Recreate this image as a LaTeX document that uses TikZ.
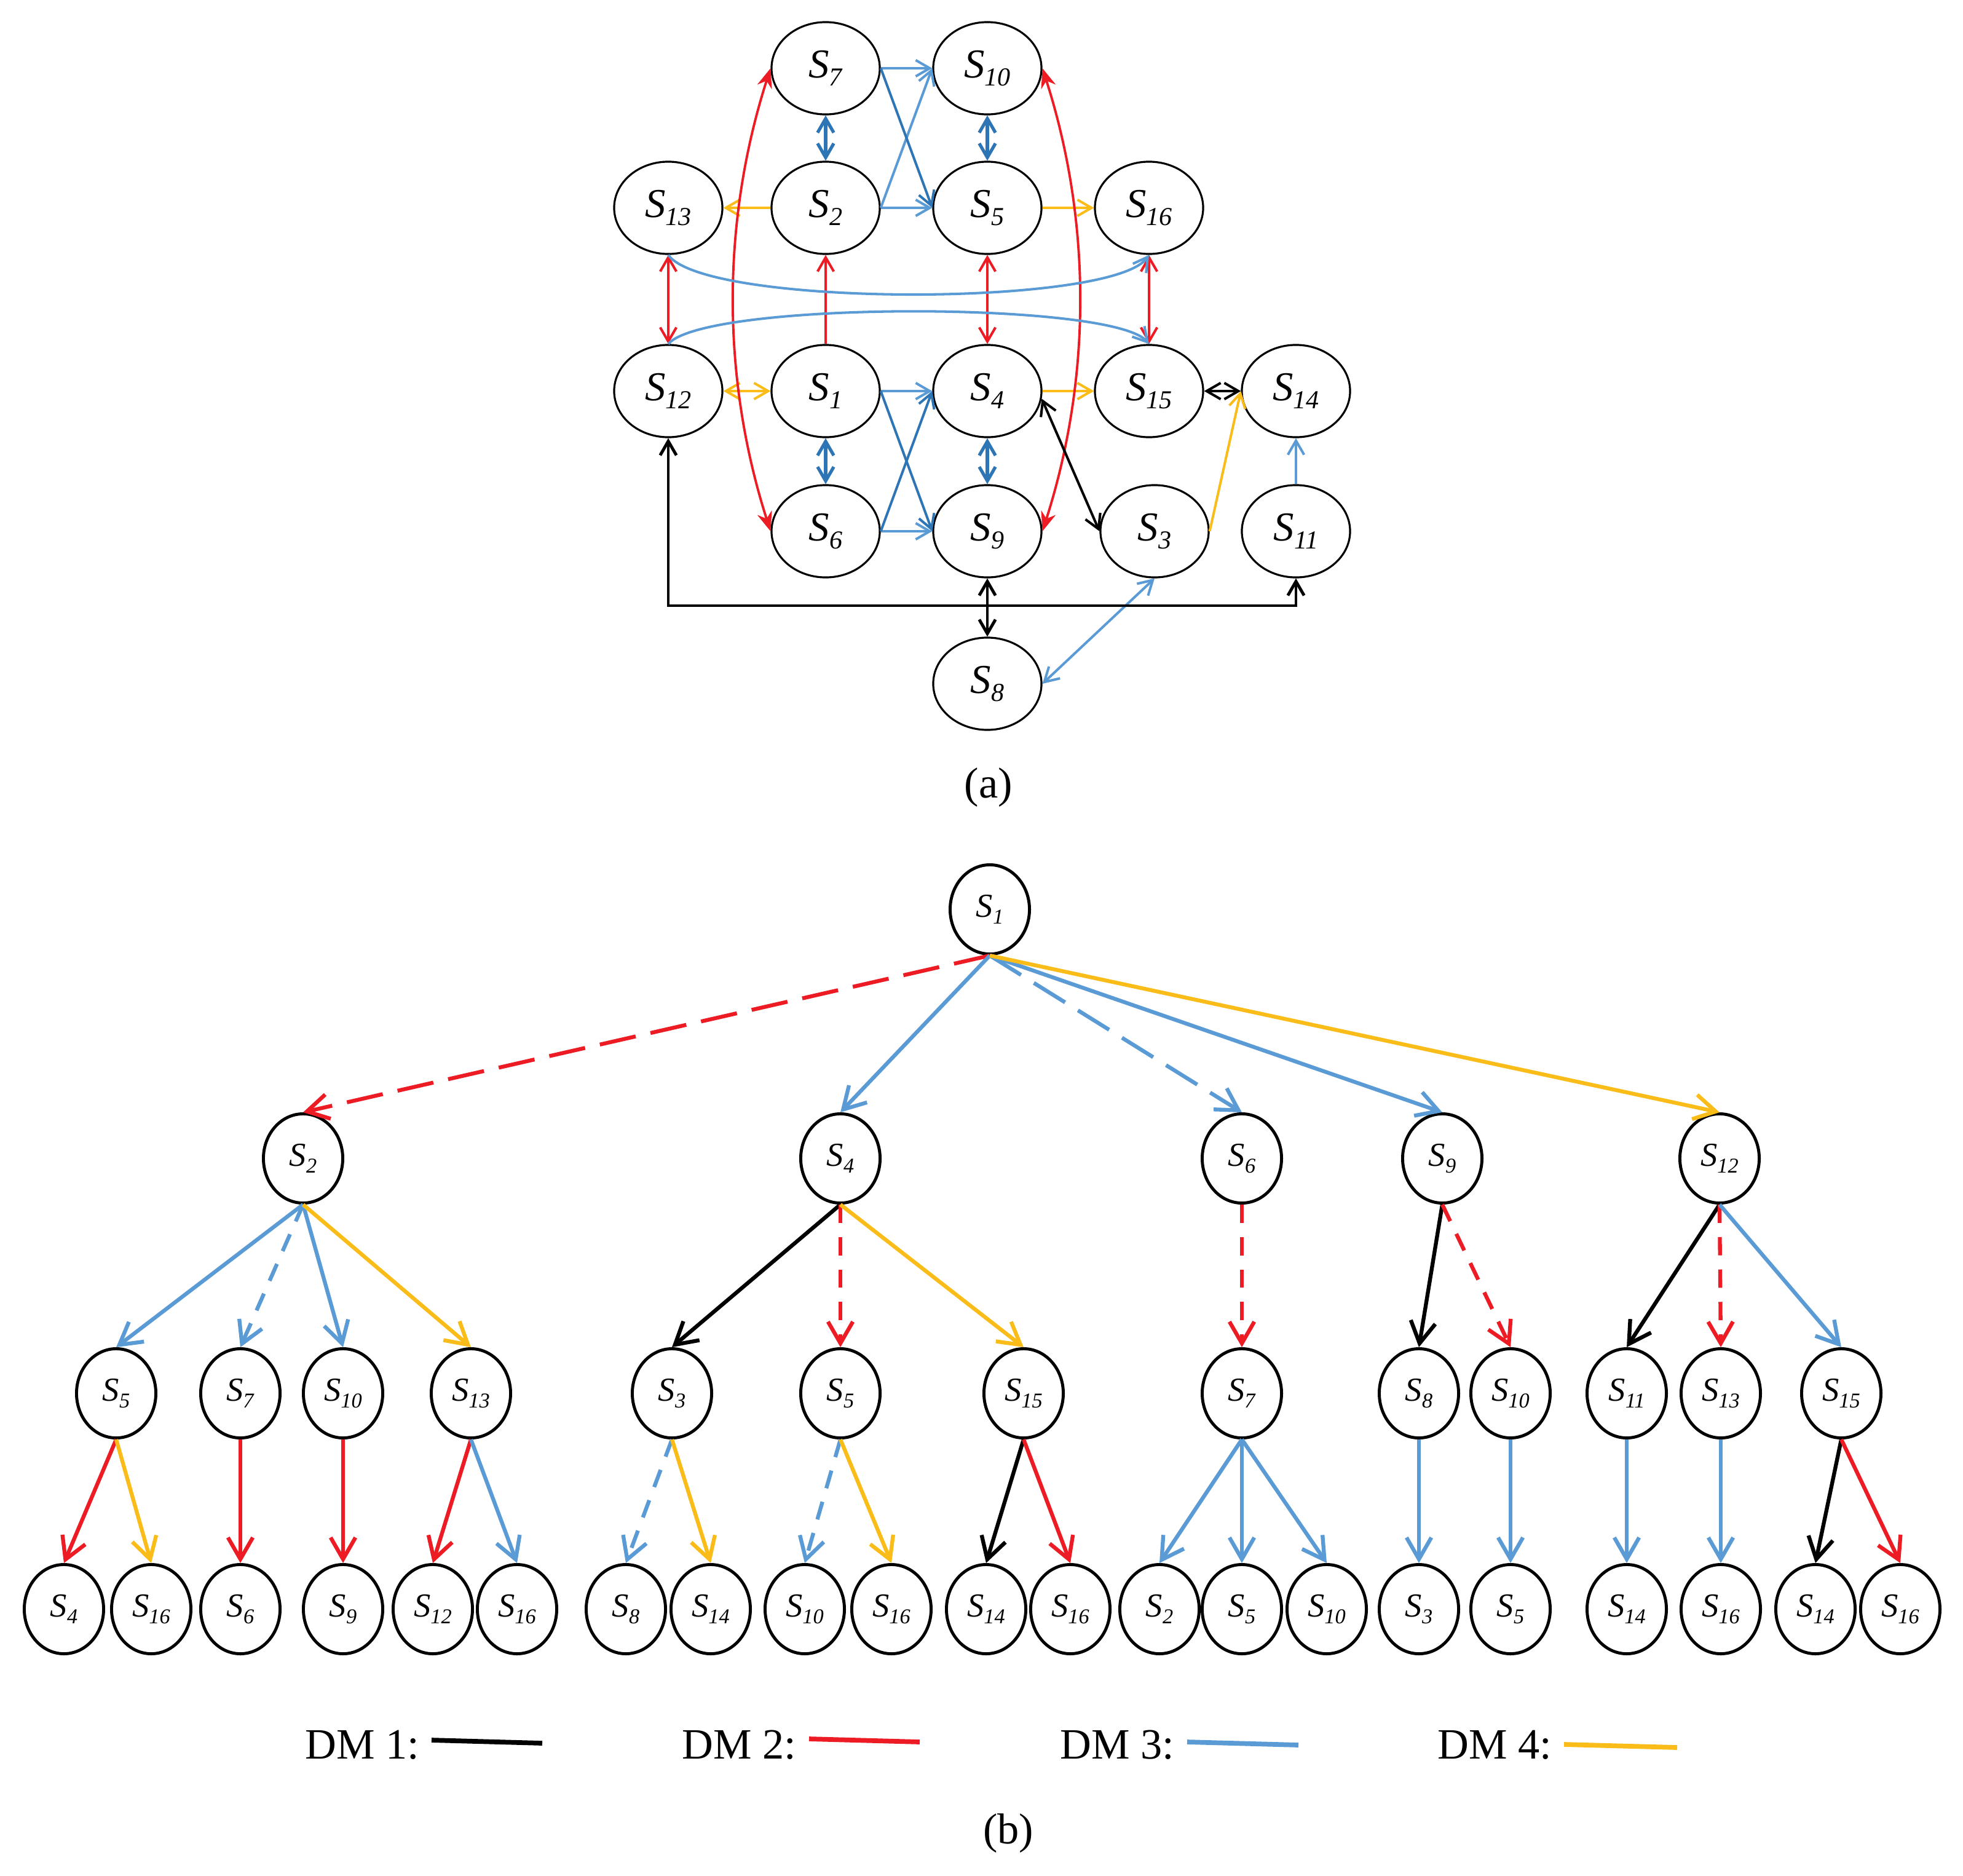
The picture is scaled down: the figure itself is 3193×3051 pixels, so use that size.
\documentclass[tikz,border=0pt]{standalone}
\usepackage{fontspec}
\setmainfont{Liberation Serif}
\usetikzlibrary{arrows.meta, shapes.geometric}

\definecolor{dmred}{RGB}{237, 28, 36}
\definecolor{dmblue}{RGB}{91, 155, 213}
\definecolor{dmdeep}{RGB}{46, 117, 182}
\definecolor{dmyellow}{RGB}{249, 188, 24}

% State label with a small italic index.
\newcommand{\Sn}[1]{\textit{S}\raisebox{-0.2em}{\scalebox{0.63}{\textit{#1}}}}

\begin{document}
\begin{tikzpicture}[%
        x = 0.01cm,
        y = -0.01cm,
        > = {Straight Barb[length = 6.5pt, width = 7.5pt]},
        anode/.style = {
            ellipse,
            draw = black,
            line width = 0.9pt,
            minimum width = 1.76cm,
            minimum height = 1.50cm,
            inner sep = 0,
            font = \fontsize{19}{22}\selectfont
        },
        bnode/.style = {
            ellipse,
            draw = black,
            line width = 1.4pt,
            minimum width = 1.29cm,
            minimum height = 1.45cm,
            inner sep = 0,
            font = \fontsize{15.5}{18}\selectfont
        },
        dmone/.style = {draw = black},
        dmtwo/.style = {draw = dmred},
        dmthree/.style = {draw = dmblue},
        dmfour/.style = {draw = dmyellow},
        deep/.style = {draw = dmdeep},
        longdash/.style = {dash pattern = on 17pt off 7pt},
        shortdash/.style = {dash pattern = on 8.5pt off 6.5pt},
        caption/.style = {font = \fontsize{20}{24}\selectfont}
    ]

        \useasboundingbox (0, 0) rectangle (3193, 3051);

        % Nodes of the graph (a).
        \node[anode] at (1343, 111) (a7) {\Sn{7}};
        \node[anode] at (1606, 111) (a10) {\Sn{10}};
        \node[anode] at (1087, 338) (a13) {\Sn{13}};
        \node[anode] at (1343, 338) (a2) {\Sn{2}};
        \node[anode] at (1606, 338) (a5) {\Sn{5}};
        \node[anode] at (1869, 338) (a16) {\Sn{16}};
        \node[anode] at (1087, 636) (a12) {\Sn{12}};
        \node[anode] at (1343, 636) (a1) {\Sn{1}};
        \node[anode] at (1606, 636) (a4) {\Sn{4}};
        \node[anode] at (1869, 636) (a15) {\Sn{15}};
        \node[anode] at (2108, 636) (a14) {\Sn{14}};
        \node[anode] at (1343, 864) (a6) {\Sn{6}};
        \node[anode] at (1606, 864) (a9) {\Sn{9}};
        \node[anode] at (1878, 864) (a3) {\Sn{3}};
        \node[anode] at (2108, 864) (a11) {\Sn{11}};
        \node[anode] at (1606, 1112) (a8) {\Sn{8}};
        \coordinate (bus) at (0, 985);

        \node[caption] at (1608, 1281) (capa) {(a)};

        % Blue arrows between the two columns.
        \begin{scope}[line width = 1.15pt, ->]
            \draw[dmthree] (a7.east) -- (a10.west);
            \draw[dmthree] (a2.east) -- (a5.west);
            \draw[dmthree] (a2.east) -- (a10.west);
            \draw[deep] (a7.east) -- (a5.west);
            \draw[dmthree] (a1.east) -- (a4.west);
            \draw[dmthree] (a6.east) -- (a9.west);
            \draw[deep] (a1.east) -- (a9.west);
            \draw[deep] (a6.east) -- (a4.west);
        \end{scope}

        % Deep blue double arrows.
        \begin{scope}[line width = 1.5pt, <->, deep]
            \draw (a7.south) -- (a2.north);
            \draw (a10.south) -- (a5.north);
            \draw (a1.south) -- (a6.north);
            \draw (a4.south) -- (a9.north);
        \end{scope}

        % Yellow arrows.
        \begin{scope}[line width = 1.15pt, dmfour]
            \draw[->] (a2.west) -- (a13.east);
            \draw[->] (a5.east) -- (a16.west);
            \draw[<->] (a12.east) -- (a1.west);
            \draw[->] (a4.east) -- (a15.west);
            \draw[->] (a3.east) -- (a14.west);
        \end{scope}

        % Red arrows.
        \begin{scope}[line width = 1.15pt, dmtwo]
            \draw[<->] (a13.south) -- (a12.north);
            \draw[->] (a1.north) -- (a2.south);
            \draw[<->] (a5.south) -- (a4.north);
            \draw[<->] (a16.south) -- (a15.north);
        \end{scope}
        \begin{scope}[line width = 1.1pt, dmtwo, > = {Stealth[length = 9pt, width = 7pt]}, <->]
            \draw (a7.west) .. controls +(-80, 250) and +(-80, -250) .. (a6.west);
            \draw (a10.east) .. controls +(80, 250) and +(80, -250) .. (a9.east);
        \end{scope}

        % Blue curves and blue arrows on the right.
        \begin{scope}[line width = 1.15pt, dmthree]
            \draw[->] (a13.south) .. controls +(60, 85) and +(-60, 85) .. (a16.south);
            \draw[->] (a12.north) .. controls +(60, -70) and +(-60, -70) .. (a15.north);
            \draw[->] (a11.north) -- (a14.south);
            \draw[<->] (a3.south) -- (a8.east);
        \end{scope}

        % Black arrows.
        \begin{scope}[dmone, <->]
            \draw[line width = 1.15pt] (a15.east) -- (a14.west);
            \draw[line width = 1.15pt] (a4.-8) -- (a3.west);
            \draw[line width = 1.4pt] (a9.south) -- (a8.north);
            \draw[line width = 1.4pt] (a12.south) -- (a12.south |- bus) -| (a11.south);
        \end{scope}

        % Nodes of the tree (b).
        \node[bnode] at (1610, 1479) (b1) {\Sn{1}};

        \node[bnode] at (493, 1884) (b2) {\Sn{2}};
        \node[bnode] at (1367, 1884) (b4) {\Sn{4}};
        \node[bnode] at (2020, 1884) (b6) {\Sn{6}};
        \node[bnode] at (2346, 1884) (b9) {\Sn{9}};
        \node[bnode] at (2797, 1884) (b12) {\Sn{12}};

        \node[bnode] at (189, 2266) (b2s5) {\Sn{5}};
        \node[bnode] at (391, 2266) (b2s7) {\Sn{7}};
        \node[bnode] at (558, 2266) (b2s10) {\Sn{10}};
        \node[bnode] at (766, 2266) (b2s13) {\Sn{13}};
        \node[bnode] at (1093, 2266) (b4s3) {\Sn{3}};
        \node[bnode] at (1367, 2266) (b4s5) {\Sn{5}};
        \node[bnode] at (1665, 2266) (b4s15) {\Sn{15}};
        \node[bnode] at (2020, 2266) (b6s7) {\Sn{7}};
        \node[bnode] at (2308, 2266) (b9s8) {\Sn{8}};
        \node[bnode] at (2457, 2266) (b9s10) {\Sn{10}};
        \node[bnode] at (2646, 2266) (b12s11) {\Sn{11}};
        \node[bnode] at (2799, 2266) (b12s13) {\Sn{13}};
        \node[bnode] at (2995, 2266) (b12s15) {\Sn{15}};

        \node[bnode] at (104, 2617) (b2s5s4) {\Sn{4}};
        \node[bnode] at (246, 2617) (b2s5s16) {\Sn{16}};
        \node[bnode] at (391, 2617) (b2s7s6) {\Sn{6}};
        \node[bnode] at (558, 2617) (b2s10s9) {\Sn{9}};
        \node[bnode] at (704, 2617) (b2s13s12) {\Sn{12}};
        \node[bnode] at (841, 2617) (b2s13s16) {\Sn{16}};
        \node[bnode] at (1018, 2617) (b4s3s8) {\Sn{8}};
        \node[bnode] at (1156, 2617) (b4s3s14) {\Sn{14}};
        \node[bnode] at (1309, 2617) (b4s5s10) {\Sn{10}};
        \node[bnode] at (1450, 2617) (b4s5s16) {\Sn{16}};
        \node[bnode] at (1604, 2617) (b4s15s14) {\Sn{14}};
        \node[bnode] at (1741, 2617) (b4s15s16) {\Sn{16}};
        \node[bnode] at (1886, 2617) (b6s7s2) {\Sn{2}};
        \node[bnode] at (2020, 2617) (b6s7s5) {\Sn{5}};
        \node[bnode] at (2158, 2617) (b6s7s10) {\Sn{10}};
        \node[bnode] at (2308, 2617) (b9s8s3) {\Sn{3}};
        \node[bnode] at (2457, 2617) (b9s10s5) {\Sn{5}};
        \node[bnode] at (2646, 2617) (b12s11s14) {\Sn{14}};
        \node[bnode] at (2799, 2617) (b12s13s16) {\Sn{16}};
        \node[bnode] at (2953, 2617) (b12s15s14) {\Sn{14}};
        \node[bnode] at (3091, 2617) (b12s15s16) {\Sn{16}};

        % Draw the tree edges.
        \begin{scope}[%
            line width = 1.8pt,
            > = {Straight Barb[length = 10pt, width = 11.5pt]},
            ->
        ]
            \draw[dmtwo, longdash] (b1.south) -- (b2.north);
            \draw[dmthree] (b1.south) -- (b4.north);
            \draw[dmthree, longdash] (b1.south) -- (b6.north);
            \draw[dmthree] (b1.south) -- (b9.north);
            \draw[dmfour] (b1.south) -- (b12.north);

            \draw[dmthree] (b2.south) -- (b2s5.north);
            \draw[dmthree, shortdash] (b2.south) -- (b2s7.north);
            \draw[dmthree] (b2.south) -- (b2s10.north);
            \draw[dmfour] (b2.south) -- (b2s13.north);
            \draw[dmone] (b4.south) -- (b4s3.north);
            \draw[dmtwo, shortdash] (b4.south) -- (b4s5.north);
            \draw[dmfour] (b4.south) -- (b4s15.north);
            \draw[dmtwo, shortdash] (b6.south) -- (b6s7.north);
            \draw[dmone] (b9.south) -- (b9s8.north);
            \draw[dmtwo, shortdash] (b9.south) -- (b9s10.north);
            \draw[dmone] (b12.south) -- (b12s11.north);
            \draw[dmtwo, shortdash] (b12.south) -- (b12s13.north);
            \draw[dmthree] (b12.south) -- (b12s15.north);

            \draw[dmtwo] (b2s5.south) -- (b2s5s4.north);
            \draw[dmfour] (b2s5.south) -- (b2s5s16.north);
            \draw[dmtwo] (b2s7.south) -- (b2s7s6.north);
            \draw[dmtwo] (b2s10.south) -- (b2s10s9.north);
            \draw[dmtwo] (b2s13.south) -- (b2s13s12.north);
            \draw[dmthree] (b2s13.south) -- (b2s13s16.north);
            \draw[dmthree, shortdash] (b4s3.south) -- (b4s3s8.north);
            \draw[dmfour] (b4s3.south) -- (b4s3s14.north);
            \draw[dmthree, shortdash] (b4s5.south) -- (b4s5s10.north);
            \draw[dmfour] (b4s5.south) -- (b4s5s16.north);
            \draw[dmone] (b4s15.south) -- (b4s15s14.north);
            \draw[dmtwo] (b4s15.south) -- (b4s15s16.north);
            \draw[dmthree] (b6s7.south) -- (b6s7s2.north);
            \draw[dmthree] (b6s7.south) -- (b6s7s5.north);
            \draw[dmthree] (b6s7.south) -- (b6s7s10.north);
            \draw[dmthree] (b9s8.south) -- (b9s8s3.north);
            \draw[dmthree] (b9s10.south) -- (b9s10s5.north);
            \draw[dmthree] (b12s11.south) -- (b12s11s14.north);
            \draw[dmthree] (b12s13.south) -- (b12s13s16.north);
            \draw[dmone] (b12s15.south) -- (b12s15s14.north);
            \draw[dmtwo] (b12s15.south) -- (b12s15s16.north);
        \end{scope}

        % Legend and caption.
        \node[caption, anchor = base west] at (484, 2860) (k1) {DM 1:};
        \node[caption, anchor = base west] at (1097, 2860) (k2) {DM 2:};
        \node[caption, anchor = base west] at (1712, 2860) (k3) {DM 3:};
        \node[caption, anchor = base west] at (2326, 2860) (k4) {DM 4:};
        \begin{scope}[line width = 2.2pt]
            \draw[dmone] (702, 2830) -- (882, 2835);
            \draw[dmtwo] (1316, 2828) -- (1496, 2833);
            \draw[dmthree] (1931, 2833) -- (2112, 2838);
            \draw[dmfour] (2544, 2837) -- (2728, 2842);
        \end{scope}

        \node[caption] at (1640, 2982) (capb) {(b)};
    \end{tikzpicture}
\end{document}
